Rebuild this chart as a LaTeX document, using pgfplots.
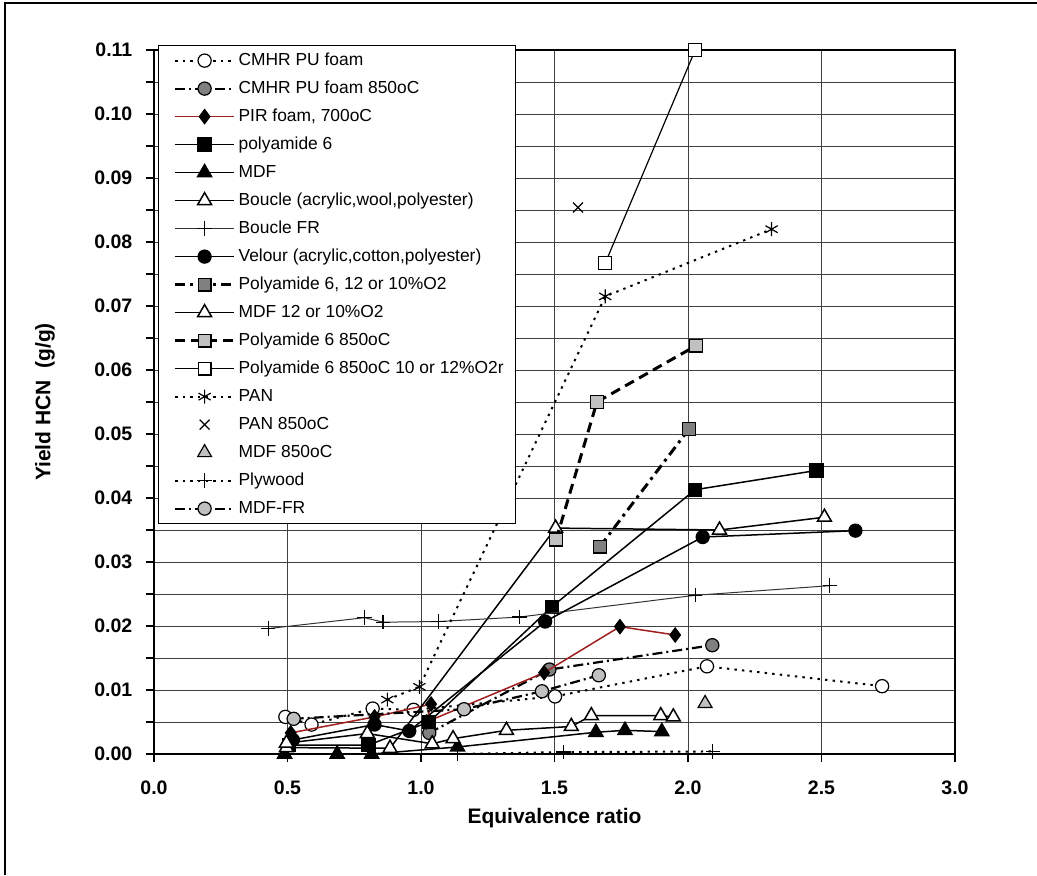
\documentclass[border=0pt]{standalone}
\usepackage{fontspec}
\setmainfont{Liberation Sans}
\usepackage{pgfplots}
\pgfplotsset{compat=1.18}
\definecolor{midgray}{RGB}{128,128,128}
\definecolor{litegray}{RGB}{192,192,192}
\definecolor{pirred}{RGB}{160,30,30}
\begin{document}
\begin{tikzpicture}
\useasboundingbox (-77pt,-60.5pt) rectangle (441.5pt,377pt);
\draw[line width=0.6pt] (-74.5pt,-60.5pt) -- (-74.5pt,375.5pt) -- (441.5pt,375.5pt);
\begin{axis}[
    at={(0,0)}, anchor=south west,
    scale only axis, width=400.5pt, height=352pt,
    xmin=0, xmax=3, ymin=0, ymax=0.11,
    xtick={0,0.5,1,1.5,2,2.5,3},
    ytick={0,0.01,0.02,0.03,0.04,0.05,0.06,0.07,0.08,0.09,0.10,0.11},
    minor ytick={0.005,0.015,0.025,0.035,0.045,0.055,0.065,0.075,0.085,0.095,0.105},
    xmajorgrids=true, ymajorgrids=true, yminorgrids=true,
    grid style={line width=0.5pt, black!75},
    minor grid style={line width=0.5pt, black!75},
    tick align=outside, tick pos=left,
    major tick length=4pt, minor tick length=4pt,
    tick style={line width=0.6pt, black},
    axis line style={line width=1pt},
    scaled y ticks=false,
    /pgf/number format/assume math mode=true,
    ticklabel style={font=\bfseries\fontsize{9.75}{11}\selectfont},
    yticklabel style={xshift=-3.3pt, /pgf/number format/fixed, /pgf/number format/fixed zerofill, /pgf/number format/precision=2},
    xticklabel style={yshift=-6pt, /pgf/number format/fixed, /pgf/number format/fixed zerofill, /pgf/number format/precision=1},
    label style={font=\bfseries\fontsize{10.5}{12}\selectfont},
    xlabel={Equivalence ratio},
    ylabel={Yield HCN\ \ (g/g)},
    xlabel style={at={(axis description cs:0.5,-0.091)}, anchor=center},
    ylabel style={at={(axis description cs:-0.136,0.5)}, anchor=center},
    clip mode=individual,
    legend image code/.code={\path (-3pt,0pt); \draw[mark repeat=2,mark phase=2,#1] plot coordinates {(0pt,0pt) (14.75pt,0pt) (29.5pt,0pt)};},
    legend cell align=left,
    legend style={at={(axis description cs:0.005,1.0071)}, anchor=north west,
        draw=black, line width=0.6pt, fill=white,
        inner xsep=4.5pt, inner ysep=3.4pt,
        row sep=5.8pt, column sep=0pt,
        font=\fontsize{8.7}{10}\selectfont,
        nodes={inner xsep=1.5pt, inner ysep=0pt, text height=6.4pt, text depth=1.8pt}},
    every axis plot/.append style={line width=0.75pt},
]

% CMHR PU foam
\addplot[black, line width=1pt, dash pattern=on 1.2pt off 2.6pt, mark=*, mark size=3.3pt,
    mark options={solid, fill=white, line width=0.6pt}]
    coordinates {(0.492,0.0058)(0.590,0.0046)(0.819,0.0071)(0.972,0.0069)(1.502,0.0090)(2.071,0.0137)(2.727,0.0106)};
\addlegendentry{\makebox[128.5pt][l]{CMHR PU foam}}

% CMHR PU foam 850oC
\addplot[black, line width=1.1pt, dash pattern=on 5pt off 2pt on 1pt off 2pt, mark=*, mark size=3.3pt,
    mark options={solid, fill=midgray, line width=0.6pt}]
    coordinates {(1.031,0.0033)(1.481,0.0132)(2.091,0.0170)};
\addlegendentry{CMHR PU foam 850oC}

% PIR foam, 700oC
\addplot[pirred, line width=0.75pt, mark=diamond*, mark size=3.4pt,
    mark options={solid, fill=black, draw=black}]
    coordinates {(0.512,0.0033)(0.826,0.0058)(1.038,0.0078)(1.02,0.0050)(1.461,0.0127)(1.745,0.0199)(1.952,0.0186)};
\addlegendentry{PIR foam, 700oC}

% polyamide 6
\addplot[black, mark=square*, mark size=3.2pt, mark options={solid, fill=black}]
    coordinates {(0.505,0.0014)(0.803,0.0014)(1.03,0.0050)(1.490,0.0230)(2.027,0.0413)(2.481,0.0443)};
\addlegendentry{polyamide 6}

% MDF
\addplot[black, mark=triangle*, mark size=4pt, mark options={solid, fill=black}]
    coordinates {(0.489,0.0)(0.686,0.0)(0.815,0.0)(1.137,0.0011)(1.655,0.0034)(1.764,0.0037)(1.902,0.0035)};
\addlegendentry{MDF}

% Boucle
\addplot[black, mark=triangle*, mark size=4pt, mark options={solid, fill=white}]
    coordinates {(0.496,0.0010)(0.884,0.0009)(1.504,0.0353)(2.118,0.0350)(2.511,0.0370)};
\addlegendentry{Boucle (acrylic,wool,polyester)}

% Boucle FR
\addplot[black!80, line width=0.5pt, mark=+, mark size=3.6pt, mark options={solid, black, line width=0.6pt}]
    coordinates {(0.428,0.0196)(0.789,0.0213)(0.858,0.0206)(1.065,0.0207)(1.369,0.0214)(2.027,0.0248)(2.531,0.0263)};
\addlegendentry{Boucle FR}

% Velour
\addplot[black, mark=*, mark size=3.2pt, mark options={solid, fill=black}]
    coordinates {(0.52,0.0022)(0.826,0.0046)(0.956,0.0036)(1.465,0.0207)(2.055,0.0339)(2.627,0.0349)};
\addlegendentry{Velour (acrylic,cotton,polyester)}

% Polyamide 6, 12 or 10%O2
\addplot[black, line width=1.5pt, dash pattern=on 5pt off 2.5pt on 1.5pt off 2.5pt, mark=square*, mark size=3.2pt,
    mark options={solid, fill=midgray, line width=0.6pt}]
    coordinates {(1.670,0.0324)(2.004,0.0508)};
\addlegendentry{Polyamide 6, 12 or 10\%O2}

% MDF 12 or 10%O2
\addplot[black, mark=triangle*, mark size=4pt, mark options={solid, fill=white}]
    coordinates {(0.496,0.0017)(0.799,0.0032)(1.042,0.0016)(1.120,0.0024)(1.320,0.0037)(1.563,0.0043)(1.638,0.0060)(1.898,0.0060)(1.945,0.0058)};
\addlegendentry{MDF 12 or 10\%O2}

% Polyamide 6 850oC
\addplot[black, line width=1.5pt, dash pattern=on 5pt off 3pt, mark=square*, mark size=3.2pt,
    mark options={solid, fill=litegray, line width=0.6pt}]
    coordinates {(1.506,0.0335)(1.659,0.0550)(2.030,0.0638)};
\addlegendentry{Polyamide 6 850oC}

% Polyamide 6 850oC 10 or 12%O2r
\addplot[black, line width=0.6pt, mark=square*, mark size=3.2pt, mark options={solid, fill=white}]
    coordinates {(1.690,0.0767)(2.027,0.1100)};
\addlegendentry{Polyamide 6 850oC 10 or 12\%O2r}

% PAN
\addplot[black, line width=1pt, dash pattern=on 1.2pt off 2.6pt, mark=asterisk, mark size=3.5pt,
    mark options={solid, line width=0.6pt}]
    coordinates {(0.874,0.0085)(0.994,0.0105)(1.690,0.0715)(2.313,0.0820)};
\addlegendentry{PAN}

% PAN 850oC
\addplot[black, only marks, mark=x, mark size=3.5pt, mark options={solid, line width=0.6pt}]
    coordinates {(1.588,0.0854)};
\addlegendentry{PAN 850oC}

% MDF 850oC
\addplot[black, only marks, mark=triangle*, mark size=4pt, mark options={solid, fill=litegray, line width=0.6pt}]
    coordinates {(2.064,0.0079)};
\addlegendentry{MDF 850oC}

% Plywood
\addplot[black, line width=1pt, dash pattern=on 1.2pt off 2.6pt, mark=+, mark size=3.6pt,
    mark options={solid, line width=0.6pt}]
    coordinates {(1.137,0.0)(1.533,0.0003)(2.093,0.0004)};
\addlegendentry{Plywood}

% MDF-FR
\addplot[black, line width=1.1pt, dash pattern=on 5pt off 2pt on 1pt off 2pt, mark=*, mark size=3.3pt,
    mark options={solid, fill=litegray, line width=0.6pt}]
    coordinates {(0.523,0.0055)(1.161,0.0070)(1.453,0.0098)(1.666,0.0123)};
\addlegendentry{MDF-FR}

\end{axis}
\end{tikzpicture}
\end{document}
